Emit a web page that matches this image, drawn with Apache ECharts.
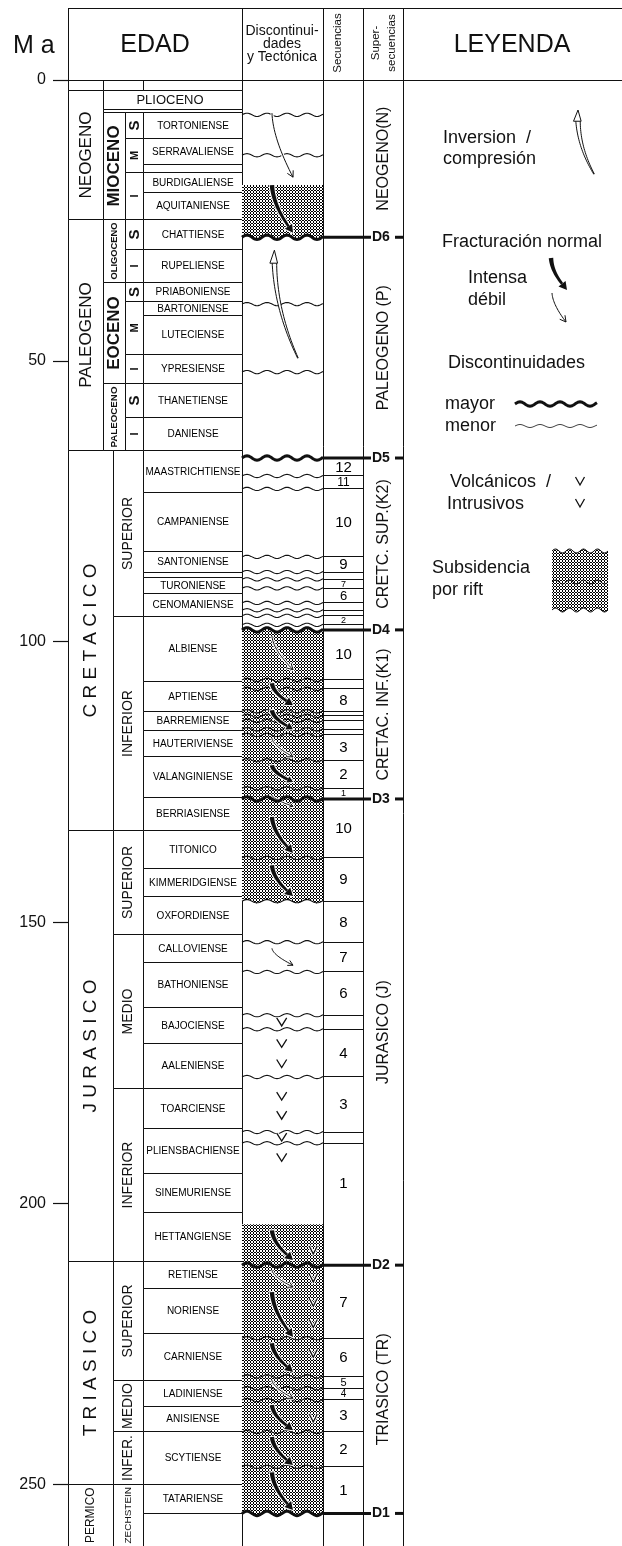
<!DOCTYPE html>
<html>
<head>
<meta charset="utf-8">
<script src="https://cdn.jsdelivr.net/npm/echarts@6/dist/echarts.min.js"></script>
<style>
  html, body { margin: 0; padding: 0; background: #fff; }
  #chart { width: 622px; height: 1546px; }
</style>
</head>
<body>
<div id="chart"></div>
<script>
// ---------------------------------------------------------------
// Age scale (Ma) and the stratigraphic table read on it
// ---------------------------------------------------------------
const AGE_MAX = 261;    // lower edge of the age scale
const OPEN_END = 266;   // rows that continue below the lower edge
const ageTicks = [0, 50, 100, 150, 200, 250];

// [name, top, base]
const periods = [
  ['', 0, 1.8],
  ['NEOGENO', 1.8, 24.8],
  ['PALEOGENO', 24.8, 65.9],
  ['C R E T A C I C O', 65.9, 133.7],
  ['J U R A S I C O', 133.7, 210.3],
  ['T R I A S I C O', 210.3, 250.0],
  ['PERMICO', 250.0, OPEN_END]
];

const cenozoicEpochs = [
  ['', 0, 1.8],
  ['PLIOCENO', 1.8, 5.2],
  ['', 5.2, 5.7],
  ['MIOCENO', 5.7, 24.8],
  ['OLIGOCENO', 24.8, 36.1],
  ['EOCENO', 36.1, 54.0],
  ['PALEOCENO', 54.0, 65.9]
];

const subEpochs = [
  ['S', 5.7, 10.5], ['M', 10.5, 16.4], ['I', 16.4, 24.8],
  ['S', 24.8, 30.1], ['I', 30.1, 36.1],
  ['S', 36.1, 39.5], ['M', 39.5, 48.8], ['I', 48.8, 54.0],
  ['S', 54.0, 60.0], ['I', 60.0, 65.9]
];

const mesozoicEpochs = [
  ['SUPERIOR', 65.9, 95.6],
  ['INFERIOR', 95.6, 133.7],
  ['SUPERIOR', 133.7, 152.2],
  ['MEDIO', 152.2, 179.5],
  ['INFERIOR', 179.5, 210.3],
  ['SUPERIOR', 210.3, 231.5],
  ['MEDIO', 231.5, 240.6],
  ['INFER.', 240.6, 250.0],
  ['ZECHSTEIN', 250.0, OPEN_END]
];

const stages = [
  ['', 0, 1.8],
  ['TORTONIENSE', 5.7, 10.5],
  ['SERRAVALIENSE', 10.5, 15.1],
  ['', 15.1, 16.4],
  ['BURDIGALIENSE', 16.4, 20.1],
  ['AQUITANIENSE', 20.1, 24.8],
  ['CHATTIENSE', 24.8, 30.1],
  ['RUPELIENSE', 30.1, 36.1],
  ['PRIABONIENSE', 36.1, 39.5],
  ['BARTONIENSE', 39.5, 42.0],
  ['LUTECIENSE', 42.0, 48.8],
  ['YPRESIENSE', 48.8, 54.0],
  ['THANETIENSE', 54.0, 60.0],
  ['DANIENSE', 60.0, 65.9],
  ['MAASTRICHTIENSE', 65.9, 73.5],
  ['CAMPANIENSE', 73.5, 83.9],
  ['SANTONIENSE', 83.9, 87.6],
  ['', 87.6, 88.5],
  ['TURONIENSE', 88.5, 91.5],
  ['CENOMANIENSE', 91.5, 95.6],
  ['ALBIENSE', 95.6, 107.0],
  ['APTIENSE', 107.0, 112.4],
  ['BARREMIENSE', 112.4, 115.9],
  ['HAUTERIVIENSE', 115.9, 120.5],
  ['VALANGINIENSE', 120.5, 127.8],
  ['BERRIASIENSE', 127.8, 133.7],
  ['TITONICO', 133.7, 140.3],
  ['KIMMERIDGIENSE', 140.3, 145.3],
  ['OXFORDIENSE', 145.3, 152.2],
  ['CALLOVIENSE', 152.2, 157.2],
  ['BATHONIENSE', 157.2, 165.1],
  ['BAJOCIENSE', 165.1, 171.5],
  ['AALENIENSE', 171.5, 179.5],
  ['TOARCIENSE', 179.5, 186.6],
  ['PLIENSBACHIENSE', 186.6, 194.6],
  ['SINEMURIENSE', 194.6, 201.6],
  ['HETTANGIENSE', 201.6, 210.3],
  ['RETIENSE', 210.3, 215.1],
  ['NORIENSE', 215.1, 223.1],
  ['CARNIENSE', 223.1, 231.5],
  ['LADINIENSE', 231.5, 236.1],
  ['ANISIENSE', 236.1, 240.6],
  ['SCYTIENSE', 240.6, 250.0],
  ['TATARIENSE', 250.0, 255.2],
  ['', 255.2, OPEN_END]
];

// Depositional sequences: [number, top, base, optional label age]
const sequences = [
  ['12', 67.3, 70.5], ['11', 70.5, 72.8], ['10', 72.8, 84.9], ['9', 84.9, 87.6],
  ['', 87.6, 88.9], ['7', 88.9, 90.5], ['6', 90.5, 93.1], ['', 93.1, 94.4],
  ['', 94.4, 95.4], ['2', 95.4, 97.0], ['', 97.0, 97.9],
  ['10', 97.9, 106.8], ['', 106.8, 108.4], ['8', 108.4, 112.4], ['', 112.4, 113.2],
  ['', 113.2, 114.1], ['', 114.1, 115.6], ['', 115.6, 116.6], ['3', 116.6, 121.1],
  ['2', 121.1, 126.1], ['1', 126.1, 128.0],
  ['10', 128.0, 138.5], ['9', 138.5, 146.2], ['8', 146.2, 153.5], ['7', 153.5, 158.8],
  ['6', 158.8, 166.5], ['', 166.5, 169.0], ['4', 169.0, 177.5], ['3', 177.5, 187.3],
  ['', 187.3, 189.3], ['1', 189.3, 211.0, 196.4],
  ['7', 211.0, 224.0], ['6', 224.0, 230.8], ['5', 230.8, 232.9], ['4', 232.9, 235.0],
  ['3', 235.0, 240.7], ['2', 240.7, 246.9], ['1', 246.9, 255.2]
];

// Major discontinuities bounding the supersequences
const discontinuities = [['D6', 28.0], ['D5', 67.3], ['D4', 97.9], ['D3', 128.0], ['D2', 211.0], ['D1', 255.2]];

const superSequences = [
  ['NEOGENO(N)', 0, 28.0],
  ['PALEOGENO (P)', 28.0, 67.3],
  ['CRETC. SUP.(K2)', 67.3, 97.9],
  ['CRETAC. INF.(K1)', 97.9, 128.0],
  ['JURASICO (J)', 128.0, 211.0],
  ['TRIASICO (TR)', 211.0, 255.2]
];

// Minor unconformities outside the numbered sequences
const extraMinorBreaks = [6.2, 13.4, 39.9, 52.0];

// Rift subsidence intervals [top, base]
const riftIntervals = [[18.7, 28.0], [97.9, 146.2], [203.7, 255.2]];

// Tectonic arrows: [kind, top, base]
const faultArrows = [
  ['debil', 5.9, 17.3],
  ['intensa', 18.7, 27.2],
  ['inversion', 30.3, 49.5],
  ['debil', 99.0, 105.0],
  ['intensa', 107.4, 111.3],
  ['intensa', 112.2, 115.6],
  ['debil', 117.2, 120.5],
  ['intensa', 122.0, 125.0],
  ['debil', 127.3, 129.3],
  ['intensa', 131.2, 137.6],
  ['intensa', 139.8, 145.3],
  ['debil', 154.6, 157.6],
  ['intensa', 204.8, 210.1],
  ['debil', 211.9, 214.9],
  ['intensa', 215.8, 223.8],
  ['intensa', 224.9, 230.0],
  ['debil', 231.5, 234.7],
  ['intensa', 235.9, 240.4],
  ['intensa', 241.6, 246.6],
  ['intensa', 247.9, 254.6]
];

// Volcanic / intrusive marks
const volcanicsAxial = [167.7, 171.5, 175.1, 180.9, 184.3, 188.2, 191.8];
const volcanicsMargin = [208.3, 213.3, 217.6, 221.4, 226.7, 238.2];

// ---------------------------------------------------------------
// Layout and drawing helpers
// ---------------------------------------------------------------
const FONT = '"Liberation Sans", Arial, Helvetica, sans-serif';
const INK = '#111';
const COL = {
  left: 68,
  periodCz: [68, 103], epochCz: [103, 125], subCz: [125, 143],
  periodMz: [68, 113], epochMz: [113, 143],
  stage: [143, 242], disc: [242, 323], seq: [323, 363], sup: [363, 403], right: 622
};
const CENOZOIC_BASE = periods.find(p => p[0] === 'PALEOGENO')[2];
const discAges = discontinuities.map(d => d[1]);
const isMajor = v => discAges.some(d => Math.abs(d - v) < 0.05);
const minorBreaks = extraMinorBreaks.concat(sequences.map(s => s[1]).filter(v => !isMajor(v)));

const crisp = v => Math.round(v - 0.5) + 0.5;
const measureCtx = document.createElement('canvas').getContext('2d');
function fit(text, room, maxSize, weight) {
  measureCtx.font = (weight || 'normal') + ' 20px ' + FONT;
  const w = measureCtx.measureText(text).width || 1;
  return Math.min(maxSize, 20 * room / w);
}
function txt(text, x, y, size, o) {
  o = o || {};
  return {
    type: 'text', x: x, y: y, rotation: o.rot ? Math.PI / 2 : 0,
    style: {
      text: text, fill: o.color || INK, fontFamily: FONT, fontSize: size,
      fontWeight: o.bold ? 'bold' : 'normal', align: o.align || 'center',
      verticalAlign: 'middle', lineHeight: o.lh || Math.round(size * 1.15)
    }
  };
}
function wave(x0, x1, y, amp, len) {
  const pts = [], n = Math.ceil(x1 - x0);
  for (let i = 0; i <= n; i++) {
    const x = x0 + (x1 - x0) * i / n;
    pts.push([x, y - amp * Math.sin(2 * Math.PI * (x - x0) / len)]);
  }
  return pts;
}
function quad(p0, c, p2, t) {
  const u = 1 - t;
  return [u * u * p0[0] + 2 * u * t * c[0] + t * t * p2[0], u * u * p0[1] + 2 * u * t * c[1] + t * t * p2[1]];
}
function quadTan(p0, c, p2, t) {
  const d = [2 * (1 - t) * (c[0] - p0[0]) + 2 * t * (p2[0] - c[0]), 2 * (1 - t) * (c[1] - p0[1]) + 2 * t * (p2[1] - c[1])];
  const l = Math.hypot(d[0], d[1]) || 1;
  return [d[0] / l, d[1] / l];
}
function band(p0, c, p2, w0, w1, n) {
  const a = [], b = [];
  for (let i = 0; i <= n; i++) {
    const t = i / n, p = quad(p0, c, p2, t), d = quadTan(p0, c, p2, t), w = (w0 + (w1 - w0) * t) / 2;
    a.push([p[0] - d[1] * w, p[1] + d[0] * w]);
    b.push([p[0] + d[1] * w, p[1] - d[0] * w]);
  }
  return a.concat(b.reverse());
}
function curve(p0, c, p2, n) {
  const pts = [];
  for (let i = 0; i <= n; i++) pts.push(quad(p0, c, p2, i / n));
  return pts;
}
// Arrow glyphs: normal faults run from (xa, ya) down to the head at (xb, yb);
// the inversion arrow has its head on top at (xa, ya) and its root at (xb, yb).
function arrowGlyph(kind, xa, ya, xb, yb) {
  const dx = xb - xa, dy = yb - ya;
  if (kind === 'inversion') {
    const hl = Math.min(12, dy * 0.16), hw = 4.5;
    const E = [xa, ya + hl];
    const c = [xa + 0.05 * (xb - xa), E[1] + 0.5 * (yb - E[1])];
    return [
      { type: 'polygon', shape: { points: band([xb, yb], c, E, 0.6, 4.5, 28) }, style: { fill: '#fff', stroke: INK, lineWidth: 1 } },
      { type: 'polygon', shape: { points: [[xa, ya], [xa - hw, ya + hl + 1], [xa + hw * 0.7, ya + hl + 1]] }, style: { fill: '#fff', stroke: INK, lineWidth: 1 } }
    ];
  }
  const p0 = [xa, ya], p2 = [xb, yb], c = [xa + 0.05 * dx, ya + 0.4 * dy];
  const u = quadTan(p0, c, p2, 1), nr = [-u[1], u[0]];
  if (kind === 'intensa') {
    const hl = Math.min(8, dy * 0.35), hw = Math.min(4.5, hl * 0.6);
    const base = [xb - u[0] * hl, yb - u[1] * hl];
    return [
      { type: 'polygon', shape: { points: band(p0, c, base, 4.5, 2.6, 20) }, style: { fill: INK } },
      { type: 'polygon', shape: { points: [[xb, yb], [base[0] + nr[0] * hw, base[1] + nr[1] * hw], [base[0] - nr[0] * hw, base[1] - nr[1] * hw]] }, style: { fill: INK } }
    ];
  }
  const hl = Math.min(6, dy * 0.3), hw = hl * 0.55;
  return [
    { type: 'polyline', shape: { points: curve(p0, c, p2, 20) }, style: { stroke: INK, lineWidth: 1, fill: null } },
    { type: 'polyline', shape: { points: [[xb - u[0] * hl + nr[0] * hw, yb - u[1] * hl + nr[1] * hw], [xb, yb], [xb - u[0] * hl - nr[0] * hw, yb - u[1] * hl - nr[1] * hw]] }, style: { stroke: INK, lineWidth: 1, fill: null } }
  ];
}
// White outline under a glyph so it reads over the stipple
function withHalo(els, w) {
  return els.map(e => ({
    type: e.type, shape: e.shape,
    style: { fill: e.style.fill ? '#fff' : null, stroke: '#fff', lineWidth: (e.style.lineWidth || 0) + (w || 2), lineJoin: 'round' }
  })).concat(els);
}
function vMark(x, y, w, h) {
  return { type: 'polyline', shape: { points: [[x - w / 2, y - h / 2], [x, y + h / 2], [x + w / 2, y - h / 2]] }, style: { stroke: INK, lineWidth: 1.3, fill: null } };
}
function stipple() {
  const c = document.createElement('canvas');
  c.width = 3; c.height = 3;
  const g = c.getContext('2d');
  g.fillStyle = '#fff'; g.fillRect(0, 0, 3, 3);
  g.fillStyle = '#000';
  [[1, 0], [0, 1], [2, 1], [1, 2]].forEach(p => g.fillRect(p[0], p[1], 1, 1));
  return { image: c, repeat: 'repeat' };
}
const STIPPLE = stipple();

// A cell of the table on the age scale
function cell(api, x0, x1, top, base, filled) {
  const a = api.coord([x0, top]), b = api.coord([x1, base]);
  const L = crisp(a[0]), R = crisp(b[0]), T = crisp(a[1]), B = crisp(b[1]);
  const vis = api.coord([x0, AGE_MAX])[1];
  return {
    L, R, T, B, Bv: Math.min(B, vis),
    rect: { type: 'rect', shape: { x: L, y: T, width: R - L, height: B - T }, style: { fill: filled === false ? null : '#fff', stroke: INK, lineWidth: 1 } }
  };
}

// One custom series per table element; values go through the axes
function layer(rows, z, draw) {
  const data = rows.map(r => r.filter(v => typeof v === 'number'));
  const dims = Math.max.apply(null, data.map(d => d.length));
  const dimensions = [];
  for (let i = 0; i < dims; i++) dimensions.push({ name: 'v' + i, type: 'float' });
  return {
    type: 'custom', coordinateSystem: 'cartesian2d', silent: true, z: z, clip: false,
    dimensions: dimensions,
    encode: { y: 0 },
    data: data.map(d => { const out = d.slice(); while (out.length < dims) out.push(null); return out; }),
    renderItem: (params, api) => {
      const r = rows[params.dataIndex];
      const v = i => api.value(i);
      return { type: 'group', children: draw(r, v, api) };
    }
  };
}

const series = [
  // column frame
  layer([[0, OPEN_END]], 1, (r, v, api) => {
    const t = api.coord([COL.left, v(0)])[1], b = api.coord([COL.left, v(1)])[1];
    return [COL.disc[0], COL.disc[1], COL.seq[1], COL.sup[1]].map(x => {
      const X = crisp(api.coord([x, 0])[0]);
      return { type: 'line', shape: { x1: X, y1: t, x2: X, y2: b }, style: { stroke: INK, lineWidth: 1 } };
    });
  }),
  // periods
  layer(periods, 2, (r, v, api) => {
    const right = v(1) <= CENOZOIC_BASE + 0.01 ? COL.periodCz[1] : COL.periodMz[1];
    const c = cell(api, COL.left, right, v(0), v(1));
    const out = [c.rect];
    if (r[0]) {
      const spaced = r[0].indexOf(' ') > 0;
      out.push(txt(r[0], (c.L + c.R) / 2, (c.T + c.Bv) / 2, fit(r[0], c.Bv - c.T - 6, spaced ? 19 : 17), { rot: true }));
    }
    return out;
  }),
  // Cenozoic epochs
  layer(cenozoicEpochs, 2, (r, v, api) => {
    const top = v(0), base = v(1);
    const inside = list => list.some(s => s[1] >= top - 0.01 && s[2] <= base + 0.01);
    const right = inside(subEpochs) ? COL.epochCz[1] : inside(stages) ? COL.subCz[1] : COL.stage[1];
    const c = cell(api, COL.epochCz[0], right, top, base);
    const out = [c.rect];
    if (r[0]) {
      if (right === COL.epochCz[1]) {
        out.push(txt(r[0], (c.L + c.R) / 2, (c.T + c.B) / 2, fit(r[0], c.B - c.T - 6, 17, 'bold'), { rot: true, bold: true }));
      } else {
        out.push(txt(r[0], (c.L + c.R) / 2 - 3, (c.T + c.B) / 2, fit(r[0], c.R - c.L - 10, 13)));
      }
    }
    return out;
  }),
  // Cenozoic sub-epochs
  layer(subEpochs, 2, (r, v, api) => {
    const c = cell(api, COL.subCz[0], COL.subCz[1], v(0), v(1));
    return [c.rect, txt(r[0], (c.L + c.R) / 2, (c.T + c.B) / 2, r[0] === 'S' ? 15 : 11, { rot: true, bold: true })];
  }),
  // Mesozoic epochs
  layer(mesozoicEpochs, 2, (r, v, api) => {
    const c = cell(api, COL.epochMz[0], COL.epochMz[1], v(0), v(1));
    return [c.rect, txt(r[0], (c.L + c.R) / 2, (c.T + c.Bv) / 2, fit(r[0], c.Bv - c.T - 5, 14), { rot: true })];
  }),
  // stages
  layer(stages, 2, (r, v, api) => {
    const c = cell(api, COL.stage[0], COL.stage[1], v(0), v(1));
    const out = [c.rect];
    if (r[0]) out.push(txt(r[0], (c.L + c.R) / 2, (c.T + c.B) / 2 + 0.5, 10, { color: '#000' }));
    return out;
  }),
  // rift subsidence
  layer(riftIntervals, 3, (r, v, api) => {
    const x0 = api.coord([COL.disc[0], 0])[0], x1 = api.coord([COL.disc[1], 0])[0];
    const yt = api.coord([x0, v(0)])[1], yb = api.coord([x0, v(1)])[1];
    const isBreak = a => isMajor(a) || minorBreaks.some(m => Math.abs(m - a) < 0.05);
    const topEdge = isBreak(v(0)) ? wave(x0, x1, yt, 2.2, 20) : [[x0, yt], [x1, yt]];
    const pts = topEdge.concat(wave(x0, x1, yb, 2.2, 20).reverse());
    return [{ type: 'polygon', shape: { points: pts }, style: { fill: STIPPLE } }];
  }),
  // minor unconformities
  layer(minorBreaks.map(a => [a]), 4, (r, v, api) => {
    const x0 = api.coord([COL.disc[0], 0])[0], x1 = api.coord([COL.disc[1], 0])[0];
    const y = api.coord([x0, v(0)])[1];
    return [{ type: 'polyline', shape: { points: wave(x0, x1, y, 1.6, 20) }, style: { stroke: INK, lineWidth: 1.1, fill: null } }];
  }),
  // sequences
  layer(sequences, 4, (r, v, api) => {
    const c = cell(api, COL.seq[0], COL.seq[1], v(0), v(1), false);
    const out = [c.rect];
    if (r[0]) {
      const at = r[3] != null ? api.coord([COL.seq[0], v(2)])[1] : (c.T + c.B) / 2;
      const fs = Math.max(9, Math.min(15, c.B - c.T - 1));
      out.push(txt(r[0], (c.L + c.R) / 2, at + 0.5, fs, { color: '#000' }));
    }
    return out;
  }),
  // supersequences
  layer(superSequences, 4, (r, v, api) => {
    const a = api.coord([COL.sup[0], v(0)]), b = api.coord([COL.sup[1], v(1)]);
    return [txt(r[0], (a[0] + b[0]) / 2 + 1, (a[1] + b[1]) / 2, 16, { rot: true })];
  }),
  // tectonic arrows
  layer(faultArrows, 5, (r, v, api) => {
    const d0 = COL.disc[0], w = COL.disc[1] - COL.disc[0];
    const yt = api.coord([d0, v(0)])[1], yb = api.coord([d0, v(1)])[1];
    if (r[0] === 'inversion') {
      return arrowGlyph('inversion', api.coord([d0 + 0.4 * w, 0])[0], yt, api.coord([d0 + 0.69 * w, 0])[0], yb);
    }
    return withHalo(arrowGlyph(r[0], api.coord([d0 + 0.37 * w, 0])[0], yt, api.coord([d0 + 0.63 * w, 0])[0], yb), 2);
  }),
  // volcanics
  layer(volcanicsAxial.map(a => [a]), 5, (r, v, api) => {
    const p = api.coord([COL.disc[0] + 0.49 * (COL.disc[1] - COL.disc[0]), v(0)]);
    return withHalo([vMark(p[0], p[1], 10, 8)], 2);
  }),
  layer(volcanicsMargin.map(a => [a]), 5, (r, v, api) => {
    const p = api.coord([COL.disc[0] + 0.88 * (COL.disc[1] - COL.disc[0]), v(0)]);
    return withHalo([vMark(p[0], p[1], 8, 8)], 2);
  }),
  // major discontinuities D1..D6
  layer(discontinuities, 6, (r, v, api) => {
    const y = api.coord([COL.left, v(0)])[1];
    const X = x => api.coord([x, 0])[0];
    return [
      { type: 'polyline', shape: { points: wave(X(COL.disc[0]), X(COL.disc[1]), y, 2.2, 20) }, style: { stroke: INK, lineWidth: 3, fill: null } },
      { type: 'line', shape: { x1: X(COL.disc[1]), y1: y, x2: X(COL.sup[0]) + 8, y2: y }, style: { stroke: INK, lineWidth: 3 } },
      txt(r[0], X(COL.sup[0]) + 9, y, 14, { bold: true, align: 'left' }),
      { type: 'line', shape: { x1: X(COL.sup[1]) - 8, y1: y, x2: X(COL.sup[1]), y2: y }, style: { stroke: INK, lineWidth: 3 } }
    ];
  })
];

// ---------------------------------------------------------------
// Header and legend
// ---------------------------------------------------------------
const hl = (x1, y1, x2, y2, w) => ({ type: 'line', shape: { x1, y1, x2, y2 }, style: { stroke: INK, lineWidth: w || 1 } });
const HEAD_TOP = 8.5, HEAD_BOT = 80.5;
const header = [
  hl(COL.left, HEAD_TOP, COL.right, HEAD_TOP),
  hl(COL.left, HEAD_BOT, COL.right, HEAD_BOT),
  ...[COL.left, COL.disc[0], COL.seq[0], COL.seq[1], COL.sup[1]].map(x => hl(x + 0.5, HEAD_TOP, x + 0.5, HEAD_BOT)),
  txt('M a', 13, 46, 25, { align: 'left' }),
  txt('EDAD', 155, 45, 25),
  txt('Discontinui-\ndades\ny Tectónica', 282, 44, 14, { lh: 13 }),
  txt('Secuencias', 338, 43, 11.5, { rot: true }),
  txt('Super-\nsecuencias', 384, 43, 11.5, { rot: true, lh: 16 }),
  txt('LEYENDA', 512, 45, 25)
];

function legendRift() {
  const top = wave(552, 608, 551, 2, 14), bot = wave(552, 608, 610, 2, 14);
  return [
    { type: 'polygon', shape: { points: top.concat(bot.slice().reverse()) }, style: { fill: STIPPLE } },
    { type: 'polyline', shape: { points: top }, style: { stroke: INK, lineWidth: 1, fill: null } },
    { type: 'polyline', shape: { points: wave(552, 608, 582, 2, 14) }, style: { stroke: INK, lineWidth: 1, fill: null } },
    { type: 'polyline', shape: { points: bot }, style: { stroke: INK, lineWidth: 1, fill: null } }
  ];
}

const LF = 18;
const legend = [
  txt('Inversion  /', 443, 138, LF, { align: 'left' }),
  txt('compresión', 443, 159, LF, { align: 'left' }),
  ...arrowGlyph('inversion', 578, 110, 594, 174),
  txt('Fracturación normal', 442, 242, LF, { align: 'left' }),
  txt('Intensa', 468, 278, LF, { align: 'left' }),
  txt('débil', 468, 300, LF, { align: 'left' }),
  ...arrowGlyph('intensa', 551, 258, 567, 290),
  ...arrowGlyph('debil', 552, 293, 566, 322),
  txt('Discontinuidades', 448, 363, LF, { align: 'left' }),
  txt('mayor', 445, 404, LF, { align: 'left' }),
  txt('menor', 445, 426, LF, { align: 'left' }),
  { type: 'polyline', shape: { points: wave(515, 597, 404, 2.2, 20) }, style: { stroke: INK, lineWidth: 3, fill: null } },
  { type: 'polyline', shape: { points: wave(515, 597, 426, 1.5, 20) }, style: { stroke: '#444', lineWidth: 1, fill: null } },
  txt('Volcánicos  /', 450, 482, LF, { align: 'left' }),
  txt('Intrusivos', 447, 504, LF, { align: 'left' }),
  vMark(580, 481, 9, 8),
  vMark(580, 503, 9, 8),
  txt('Subsidencia', 432, 568, LF, { align: 'left' }),
  txt('por rift', 432, 590, LF, { align: 'left' }),
  ...legendRift()
];

// ---------------------------------------------------------------
const chart = echarts.init(document.getElementById('chart'), null, { renderer: 'canvas' });
chart.setOption({
  backgroundColor: '#fff',
  animation: false,
  grid: { left: COL.left, right: 0, top: 80, bottom: 0 },
  xAxis: { type: 'value', min: COL.left, max: COL.right, show: false },
  yAxis: {
    type: 'value', inverse: true, min: 0, max: AGE_MAX,
    axisLine: { show: true, lineStyle: { color: INK, width: 1 } },
    axisTick: { show: true, length: 15, lineStyle: { color: INK, width: 1.2 }, customValues: ageTicks },
    axisLabel: { color: INK, fontSize: 16, fontFamily: FONT, margin: 22, customValues: ageTicks },
    splitLine: { show: false }
  },
  series: series,
  graphic: { elements: header.concat(legend).map(e => Object.assign({ z: 100 }, e)) }
});
</script>
</body>
</html>
